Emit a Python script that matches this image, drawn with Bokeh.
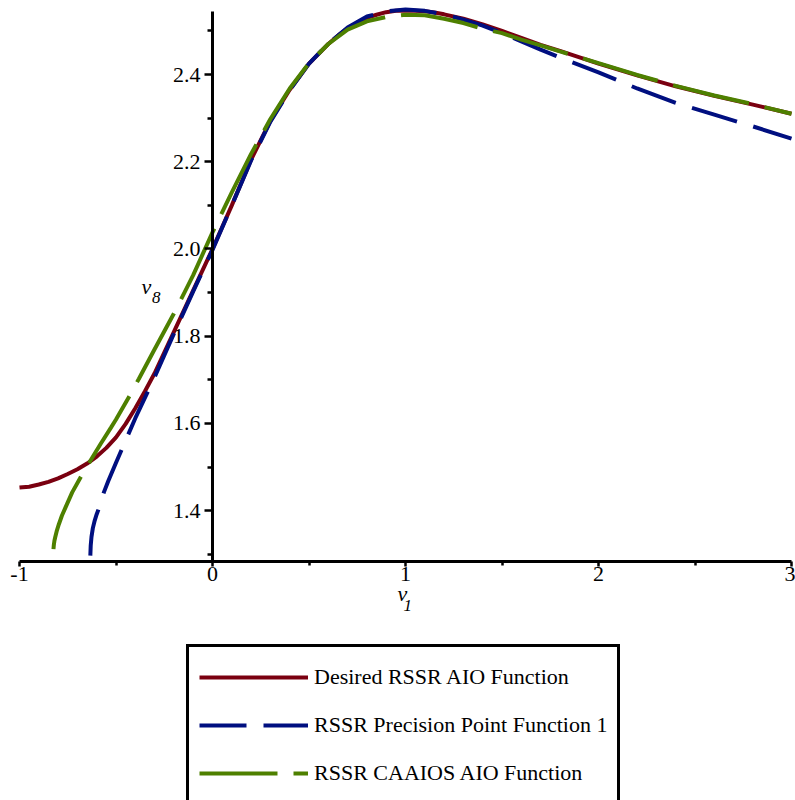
from bokeh.plotting import figure
from bokeh.models import FixedTicker, Legend, LegendItem, Label, Range1d
from bokeh.embed import file_html
from bokeh.resources import INLINE

# ---------------- data ----------------
desired_x = [-1.0, -0.95, -0.9, -0.85, -0.8, -0.75, -0.7, -0.65, -0.6, -0.55, -0.5, -0.45, -0.4,
             -0.35, -0.3, -0.2, -0.1, 0.0, 0.1, 0.2, 0.3, 0.4, 0.5, 0.6, 0.65, 0.7, 0.75, 0.8,
             0.85, 0.9, 0.95, 1.0, 1.05, 1.1, 1.15, 1.2, 1.3, 1.4, 1.5, 1.6, 1.7, 1.8, 2.0, 2.2,
             2.4, 2.6, 2.8, 3.0]
desired_y = [1.453, 1.455, 1.460, 1.466, 1.474, 1.484, 1.495, 1.508, 1.524, 1.544, 1.568, 1.599,
             1.635, 1.674, 1.715, 1.810, 1.905, 2.000, 2.100, 2.205, 2.294, 2.365, 2.425, 2.470,
             2.489, 2.506, 2.519, 2.530, 2.537, 2.543, 2.546, 2.547, 2.546, 2.545, 2.542, 2.538,
             2.528, 2.515, 2.500, 2.484, 2.468, 2.454, 2.425, 2.398, 2.373, 2.351, 2.331, 2.310]

precision_x = [-0.633, -0.631, -0.627, -0.620, -0.610, -0.600, -0.589, -0.575, -0.563, -0.540,
               -0.500, -0.450, -0.400, -0.300, -0.200, -0.100, 0.0, 0.1, 0.2, 0.3, 0.4, 0.5,
               0.6, 0.7, 0.8, 0.9, 1.0, 1.1, 1.2, 1.3, 1.4, 1.5, 1.6, 1.7, 1.8, 2.0, 2.2, 2.4,
               2.6, 2.8, 3.0]
precision_y = [1.297, 1.320, 1.340, 1.360, 1.378, 1.392, 1.405, 1.425, 1.442, 1.468, 1.510,
               1.561, 1.612, 1.706, 1.806, 1.903, 1.998, 2.100, 2.203, 2.292, 2.364, 2.425,
               2.471, 2.508, 2.533, 2.545, 2.549, 2.546, 2.538, 2.526, 2.512, 2.495, 2.476,
               2.457, 2.439, 2.405, 2.368, 2.335, 2.308, 2.281, 2.253]

caaios_x = [-0.824, -0.822, -0.819, -0.815, -0.806, -0.796, -0.780, -0.762, -0.727, -0.684,
            -0.632, -0.580, -0.527, -0.500, -0.425, -0.382, -0.300, -0.200, -0.100, 0.0, 0.1,
            0.2, 0.3, 0.4, 0.5, 0.6, 0.7, 0.8, 0.9, 1.0, 1.1, 1.2, 1.3, 1.4, 1.5, 1.6, 1.7,
            1.8, 2.0, 2.2, 2.4, 2.6, 2.8, 3.0]
caaios_y = [1.312, 1.322, 1.331, 1.339, 1.355, 1.369, 1.389, 1.407, 1.442, 1.476, 1.515, 1.553,
            1.590, 1.609, 1.667, 1.702, 1.770, 1.852, 1.940, 2.038, 2.130, 2.218, 2.298, 2.368,
            2.426, 2.470, 2.503, 2.522, 2.532, 2.537, 2.536, 2.528, 2.518, 2.505, 2.495, 2.480,
            2.467, 2.453, 2.426, 2.399, 2.374, 2.352, 2.332, 2.310]

series_names = ["Desired RSSR AIO Function",
                "RSSR Precision Point Function 1",
                "RSSR CAAIOS AIO Function"]

x_ticks = [-1, 0, 1, 2, 3]
x_tick_labels = ["-1", "0", "1", "2", "3"]
x_minor_ticks = [-0.5, 0.5, 1.5, 2.5]
y_ticks = [1.4, 1.6, 1.8, 2.0, 2.2, 2.4]
y_tick_labels = ["1.4", "1.6", "1.8", "2.0", "2.2", "2.4"]
y_minor_ticks = [1.3, 1.5, 1.7, 1.9, 2.1, 2.3, 2.5]

x_bounds = (-1, 3)
y_bounds = (1.2835, 2.5445)

# ---------------- layout / styling ----------------
W, H = 795, 800
FONT = "Liberation Serif"
RED = "#7a0010"
BLUE = "#000f80"
GREEN = "#4e8000"

# pixel placement of the axes box inside the canvas
left_px, right_px, top_px, axis_px = 19, 791, 11, 561
xs = (right_px - left_px) / (x_bounds[1] - x_bounds[0])
ys = (axis_px - top_px) / (y_bounds[1] - y_bounds[0])
x_range = Range1d(x_bounds[0] - left_px / xs, x_bounds[1] + (W - right_px) / xs)
y_range = Range1d(y_bounds[1] - (H - top_px) / ys, y_bounds[1] + top_px / ys)

p = figure(width=W, height=H, x_range=x_range, y_range=y_range,
           output_backend="svg", toolbar_location=None,
           min_border_left=0, min_border_right=0, min_border_top=0, min_border_bottom=0)
p.outline_line_color = None
p.xgrid.visible = False
p.ygrid.visible = False
p.background_fill_color = "white"
p.border_fill_color = "white"

r_red = p.line(desired_x, desired_y, line_color=RED, line_width=4)
r_blue = p.line(precision_x, precision_y, line_color=BLUE, line_width=4, line_dash="47 17")
r_green = p.line(caaios_x, caaios_y, line_color=GREEN, line_width=4, line_dash="78 16")

xa = p.xaxis[0]
xa.ticker = FixedTicker(ticks=x_ticks, minor_ticks=x_minor_ticks)
xa.major_label_overrides = {t: s for t, s in zip(x_ticks, x_tick_labels)}
xa.fixed_location = y_bounds[0]
xa.bounds = x_bounds

ya = p.yaxis[0]
ya.ticker = FixedTicker(ticks=y_ticks, minor_ticks=y_minor_ticks)
ya.major_label_overrides = {t: s for t, s in zip(y_ticks, y_tick_labels)}
ya.fixed_location = 0
ya.bounds = y_bounds

for ax in (xa, ya):
    ax.axis_line_color = "black"
    ax.axis_line_width = 3
    ax.major_tick_line_color = "black"
    ax.major_tick_line_width = 2.5
    ax.minor_tick_line_color = "black"
    ax.minor_tick_line_width = 2.5
    ax.major_tick_in = 0
    ax.minor_tick_in = 0
    ax.major_label_text_font = FONT
    ax.major_label_text_font_size = "22px"
    ax.major_label_text_color = "black"
    ax.major_label_text_font_style = "normal"
xa.major_tick_out = 5
xa.minor_tick_out = 4
xa.major_label_standoff = 0
ya.major_tick_out = 8
ya.minor_tick_out = 5
ya.major_label_standoff = 4


def lab(x, y, t, size):
    p.add_layout(Label(x=x, y=y, text=t, text_font=FONT, text_font_style="italic",
                       text_font_size=size, text_color="black",
                       text_align="left", text_baseline="alphabetic"))


# axis titles: italic v with a subscript
lab(-0.368, 1.9135, "v", "22px")
lab(-0.313, 1.8894, "8", "17px")
lab(0.9585, 1.2094, "v", "22px")
lab(0.9896, 1.1818, "1", "17px")

legend = Legend(items=[LegendItem(label=series_names[0], renderers=[r_red]),
                       LegendItem(label=series_names[1], renderers=[r_blue]),
                       LegendItem(label=series_names[2], renderers=[r_green])],
                location=(186, -5.5))
legend.border_line_color = "black"
legend.border_line_alpha = 1.0
legend.border_line_width = 3
legend.background_fill_color = "white"
legend.background_fill_alpha = 1
legend.glyph_width = 109
legend.glyph_height = 40
legend.label_height = 40
legend.label_standoff = 6
legend.spacing = 8
legend.padding = 10
legend.margin = 0
legend.label_text_font = FONT
legend.label_text_font_size = "22px"
legend.label_text_color = "black"
p.add_layout(legend)

open("out.html", "w").write(file_html(p, INLINE))
